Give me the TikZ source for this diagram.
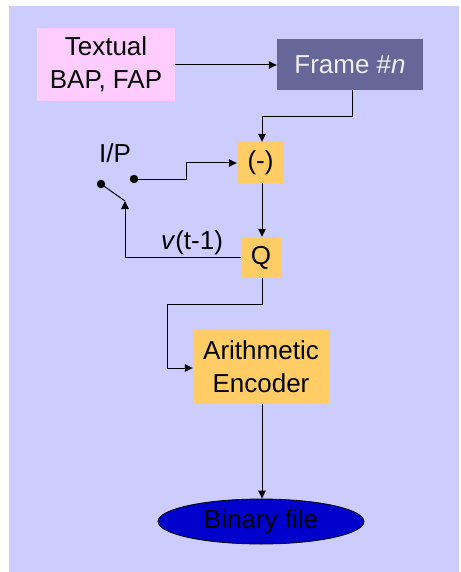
\documentclass[tikz,border=0pt]{standalone}
\usepackage{fontspec}
\setmainfont{Liberation Sans}
\usetikzlibrary{arrows.meta,shapes.geometric}
\definecolor{bgc}{HTML}{CCCCFF}
\definecolor{pinkc}{HTML}{FFCCFF}
\definecolor{framec}{HTML}{666699}
\definecolor{orangec}{HTML}{FFCC66}
\definecolor{bluec}{HTML}{0000CC}
\definecolor{lightt}{HTML}{EEEEEE}
\begin{document}
\begin{tikzpicture}[x=1pt,y=-1pt,
  every node/.style={font=\fontsize{26}{33}\selectfont, inner sep=0pt, align=center},
  box/.style={rectangle, draw=none},
  conn/.style={line width=1pt, draw=black},
  arr/.style={conn, -{Triangle[length=8pt,width=7.5pt]}},
  dotc/.style={circle, fill=black, minimum size=8.5pt}]
\useasboundingbox (0,0) rectangle (460,572);
\fill[white] (0,0) rectangle (460,572);
\fill[bgc] (9,6) rectangle (459,572);
% boxes
\node[box, fill=pinkc, minimum width=138pt, minimum height=73pt] (txt) at (106,64.5) {Textual\\BAP, FAP};
\node[box, fill=framec, text=lightt, minimum width=146pt, minimum height=51pt] (frame) at (350,64.5) {Frame \#\textit{n}};
\node[box, fill=orangec, minimum width=47pt, minimum height=41pt] (minus) at (260.5,162.5) {(-)};
\node[box, fill=orangec, minimum width=40pt, minimum height=41pt] (q) at (261,257.5) {Q};
\node[box, fill=orangec, minimum width=136pt, minimum height=74pt] (arith) at (261,367) {Arithmetic\\Encoder};
\node[ellipse, draw=black, line width=0.8pt, fill=bluec, text=black, minimum width=206pt, minimum height=45pt] (bin) at (261,521.5) {Binary file};
% labels
\node (ip) at (115,153) {I/P};
\node (vt) at (192,243) {\textit{v}(t-1)};
% switch
\node[dotc] (d1) at (134,179) {};
\node[dotc] (d2) at (101,184) {};
\coordinate (sw) at (125,201);
\draw[conn] (d2.center) -- (sw);
% connectors
\draw[arr] (txt.east |- 0,65) -- (frame.west |- 0,65);
\draw[arr] (frame.south -| 352,0) |- (262,117) -- (minus.north -| 262,0);
\draw[arr] (d1.center) -| (186,163) -- (minus.west |- 0,163);
\draw[arr] (minus.south -| 262,0) -- (q.north -| 262,0);
\draw[arr] (q.west) -| (sw);
\draw[arr] (q.south -| 262,0) |- (167,304) |- (arith.west |- 0,368);
\draw[arr] (arith.south -| 262,0) -- (bin.north -| 262,0);
\end{tikzpicture}
\end{document}
